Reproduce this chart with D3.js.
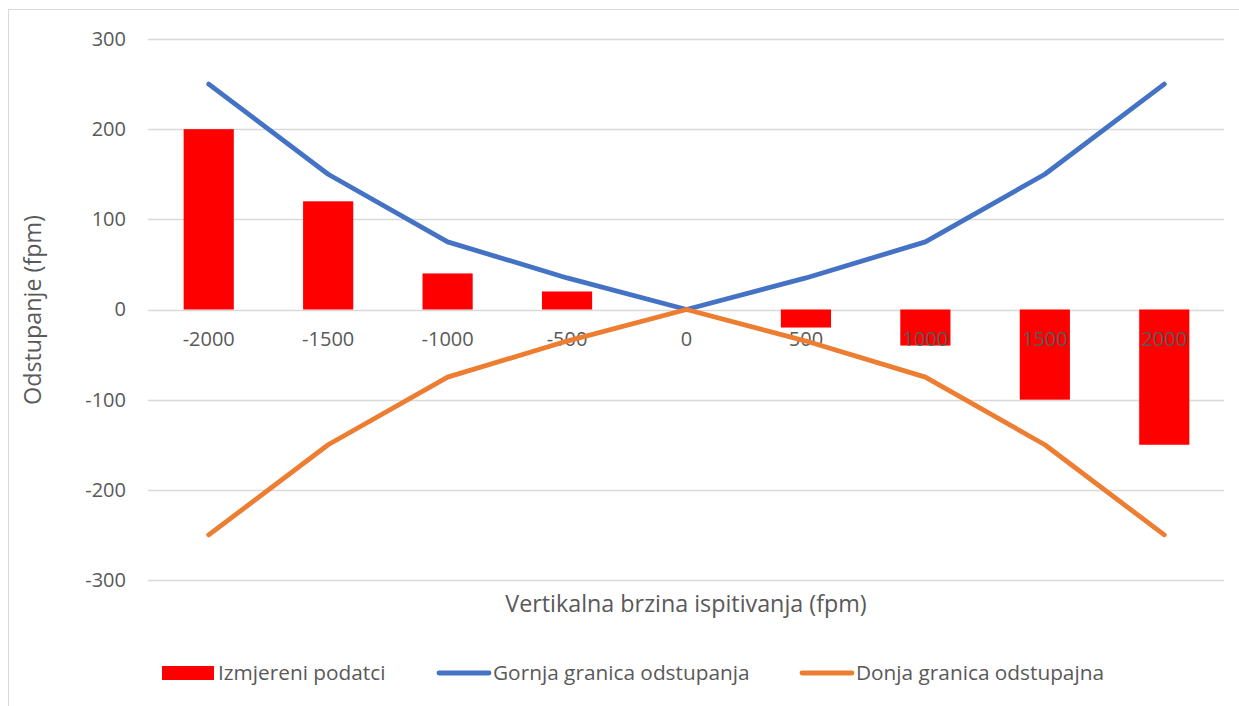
<!DOCTYPE html>
<html><head><meta charset="utf-8">
<script src="https://cdn.jsdelivr.net/npm/d3@7"></script>
<style>body{margin:0;background:#fff;}svg{display:block;font-family:"Open Sans", sans-serif;}</style>
</head><body>
<svg id="c" width="1239" height="706"></svg>
<script>
const categories = [-2000, -1500, -1000, -500, 0, 500, 1000, 1500, 2000];
const measured = [200, 120, 40, 20, 0, -20, -40, -100, -150];
const upper = [250, 150, 75, 35, 0, 35, 75, 150, 250];
const lower = [-250, -150, -75, -35, 0, -35, -75, -150, -250];
const yTicks = [-300, -200, -100, 0, 100, 200, 300];
const seriesNames = ["Izmjereni podatci", "Gornja granica odstupanja", "Donja granica odstupajna"];
const colors = ["#FF0000", "#4472C4", "#ED7D31"];
const FONT = '"Open Sans", sans-serif';

const svg = d3.select("#c");
svg.append("rect").attr("x", 8.5).attr("y", 9.5).attr("width", 1240).attr("height", 710)
  .attr("fill", "none").attr("stroke", "#d9d9d9").attr("stroke-width", 1);

const x = d3.scaleBand().domain(categories).range([149, 1224]).paddingInner(0.58).paddingOuter(0.29);
const xc = d => x(d) + x.bandwidth() / 2;
const y = d3.scaleLinear().domain([-300, 300]).range([580, 39]);

svg.append("g").selectAll("line").data(yTicks).join("line")
  .attr("x1", 148).attr("x2", 1224).attr("y1", d => Math.round(y(d)) + 0.5).attr("y2", d => Math.round(y(d)) + 0.5)
  .attr("stroke", "#d9d9d9").attr("stroke-width", 1.3);

const yAxis = d3.axisLeft(y).tickValues(yTicks).tickSize(0).tickPadding(0).tickFormat(d => String(d));
const gy = svg.append("g").attr("transform", "translate(126,0)").call(yAxis);
gy.select(".domain").remove();
gy.selectAll("text").attr("fill", "#595959").style("font-size", "20px").style("font-family", FONT);

svg.append("g").selectAll("rect").data(categories).join("rect")
  .attr("x", d => x(d))
  .attr("width", x.bandwidth())
  .attr("y", (d, i) => Math.min(y(measured[i]), y(0)))
  .attr("height", (d, i) => Math.abs(y(measured[i]) - y(0)))
  .attr("fill", colors[0]);

const xAxis = d3.axisBottom(x).tickSize(0).tickPadding(0).tickFormat(d => String(d));
const gx = svg.append("g").attr("transform", `translate(0,${y(0) + 22})`).call(xAxis);
gx.select(".domain").remove();
gx.selectAll("text").attr("fill", "#595959").style("font-size", "20px").style("font-family", FONT);

const line = d3.line().x((d, i) => xc(categories[i])).y(d => y(d));
[upper, lower].forEach((s, k) => {
  svg.append("path").datum(s).attr("d", line).attr("fill", "none")
    .attr("stroke", colors[k + 1]).attr("stroke-width", 4.8)
    .attr("stroke-linecap", "round").attr("stroke-linejoin", "round");
});

svg.append("text").attr("x", 686).attr("y", 612).attr("text-anchor", "middle")
  .attr("fill", "#595959").style("font-size", "23.3px").text("Vertikalna brzina ispitivanja (fpm)");
svg.append("text").attr("transform", "translate(41,310) rotate(-90)").attr("text-anchor", "middle")
  .attr("fill", "#595959").style("font-size", "23.3px").text("Odstupanje (fpm)");

const lg = svg.append("g");
const legX = [162, 437, 800];
seriesNames.forEach((n, i) => {
  if (i === 0) {
    lg.append("rect").attr("x", legX[i]).attr("y", 666).attr("width", 52).attr("height", 14).attr("fill", colors[0]);
  } else {
    lg.append("line").attr("x1", legX[i] + 2).attr("x2", legX[i] + 52).attr("y1", 673).attr("y2", 673)
      .attr("stroke", colors[i]).attr("stroke-width", 4.8).attr("stroke-linecap", "round");
  }
  lg.append("text").attr("x", legX[i] + 56).attr("y", 680).attr("fill", "#595959")
    .style("font-size", "20.8px").text(n);
});
</script>
</body></html>
